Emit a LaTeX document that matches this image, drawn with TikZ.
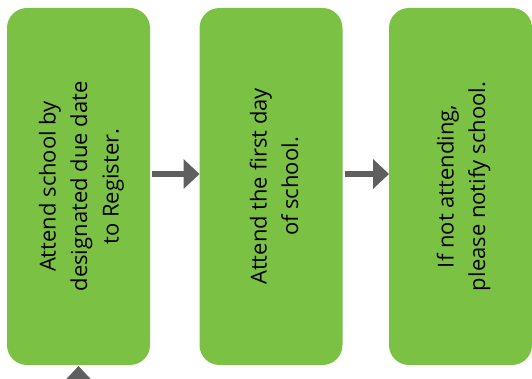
\documentclass[tikz,border=0pt]{standalone}
\usepackage{fontspec}
\setmainfont{Open Sans}
\usetikzlibrary{arrows.meta}
\definecolor{boxgreen}{HTML}{7BC143}
\definecolor{arrowgray}{HTML}{5F5F5F}
\tikzset{
  stepbox/.style={fill=boxgreen, draw=none, rounded corners=20pt,
    minimum width=143pt, minimum height=357pt, inner sep=0pt, outer sep=0pt},
  steptext/.style={rotate=90, align=center, font=\fontsize{22}{31.5}\selectfont, text=black},
  flowarrow/.style={draw=arrowgray, line width=6pt,
    -{Triangle[length=16pt,width=29pt]}}
}
\begin{document}
\begin{tikzpicture}[x=1pt,y=1pt]
\useasboundingbox (0,0) rectangle (532,379);
\clip (0,0) rectangle (532,379);
\node[stepbox] (b1) at (78.5,192.5) {};
\node[stepbox] (b2) at (271,192.5) {};
\node[stepbox] (b3) at (460.5,192.5) {};
\node[steptext] (t1) at ([xshift=3pt]b1.center) {Attend school by\\designated due date\\to Register.};
\node[steptext] (t2) at ([xshift=3pt]b2.center) {Attend the first day\\of school.};
\node[steptext] (t3) at ([xshift=3pt]b3.center) {If not attending,\\please notify school.};
\coordinate (a1s) at ([xshift=2pt,yshift=12.5pt]b1.east);
\coordinate (a1e) at ([yshift=12.5pt]b2.west);
\coordinate (a2s) at ([xshift=2pt,yshift=12.5pt]b2.east);
\coordinate (a2e) at ([yshift=12.5pt]b3.west);
\draw[flowarrow] (a1s) -- (a1e);
\draw[flowarrow] (a2s) -- (a2e);
\coordinate (a0s) at ([yshift=-40pt]b1.south);
\coordinate (a0e) at ([yshift=-1pt]b1.south);
\draw[flowarrow] (a0s) -- (a0e);
\end{tikzpicture}
\end{document}
